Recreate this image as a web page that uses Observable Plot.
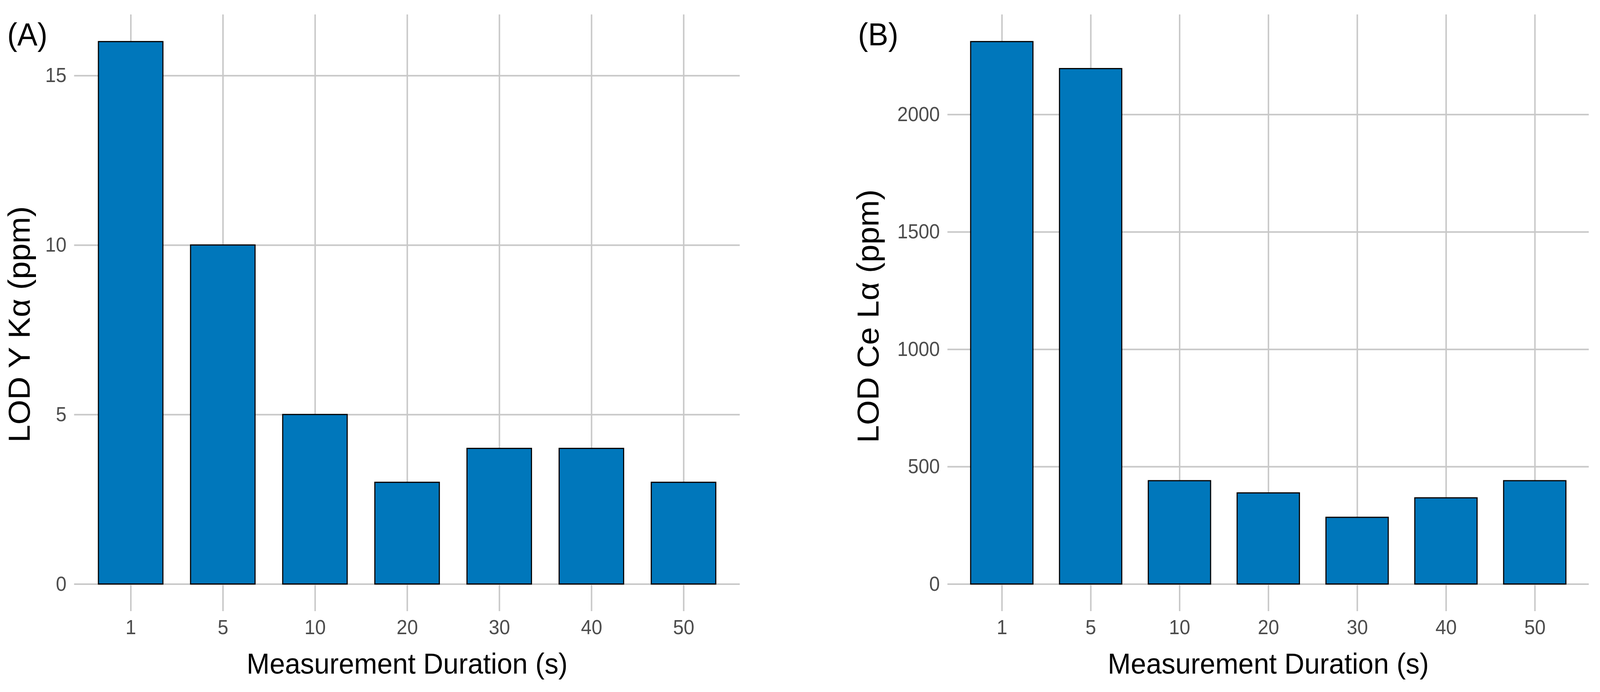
<!DOCTYPE html>
<html><head><meta charset="utf-8">
<script src="https://cdn.jsdelivr.net/npm/d3@7"></script>
<script src="https://cdn.jsdelivr.net/npm/@observablehq/plot@0.6"></script>
<style>html,body{margin:0;background:#fff;overflow:hidden}#wrap{position:relative;background:#fff}#wrap svg{position:absolute;top:0;max-width:none}</style>
</head><body><div id="wrap"></div>
<script>
const durations = ["1", "5", "10", "20", "30", "40", "50"];
const lodYKa = [16, 10, 5, 3, 4, 4, 3];
const lodCeLa = [2310, 2195, 440, 388, 284, 367, 440];
const ticksA = [0, 5, 10, 15];
const ticksB = [0, 500, 1000, 1500, 2000];
const xTitle = "Measurement Duration (s)";
const yTitleA = "LOD Y Kα (ppm)";
const yTitleB = "LOD Ce Lα (ppm)";

const GRID = "#c8c8c8";
const BAR = "#0077bb";
const FONT = "'Liberation Sans', Arial, Helvetica, sans-serif";
const W = 4341, H = 1771;

function panel({values, ticks, yLabel, tag, width, marginLeft, marginRight, titleDx, titleDy, tagDx}) {
  const data = durations.map((d, i) => ({d, v: values[i]}));
  const max = d3.max(values);
  const pad = max * 0.05;
  return Plot.plot({
    width, height: H,
    marginLeft, marginRight, marginTop: 37, marginBottom: 207,
    style: {fontFamily: FONT, background: "#fff", color: "#4d4d4d", overflow: "visible"},
    x: {type: "band", domain: durations, paddingInner: 0.3, paddingOuter: 0.25},
    y: {domain: [-pad, max + pad]},
    marks: [
      Plot.gridX({stroke: GRID, strokeOpacity: 1, strokeWidth: 4}),
      Plot.gridY({ticks, stroke: GRID, strokeOpacity: 1, strokeWidth: 4}),
      Plot.barY(data, {x: "d", y: "v", fill: BAR, stroke: "#000", strokeWidth: 3}),
      Plot.axisX({tickSize: 0, tickPadding: 22, fontSize: 52, label: null, color: "#4d4d4d"}),
      Plot.axisY({ticks, tickFormat: d3.format("d"), tickSize: 0, tickPadding: 21, fontSize: 52, label: null, color: "#4d4d4d"}),
      Plot.text([xTitle], {text: d => d, frameAnchor: "bottom", dy: 106, lineAnchor: "top", fontSize: 75, fill: "#000"}),
      Plot.text([yLabel], {text: d => d, frameAnchor: "left", dx: titleDx, dy: titleDy, rotate: -90, lineAnchor: "middle", textAnchor: "middle", fontSize: 82, fill: "#000"}),
      Plot.text([tag], {text: d => d, frameAnchor: "top-left", dx: tagDx, dy: 20, lineAnchor: "top", textAnchor: "start", fontSize: 82, fill: "#000"})
    ]
  });
}

// the browser viewport may be narrower than the target width: fit horizontally, keep full height
const sx = Math.min(1, window.innerWidth / W);
const wrap = document.getElementById("wrap");
wrap.style.width = (W * sx) + "px";
wrap.style.height = H + "px";
const a = panel({values: lodYKa, ticks: ticksA, yLabel: yTitleA, tag: "(A)", width: 2170, marginLeft: 201, marginRight: 163, titleDx: -147, titleDy: 29, tagDx: -182});
const b = panel({values: lodCeLa, ticks: ticksB, yLabel: yTitleB, tag: "(B)", width: 2171, marginLeft: 400, marginRight: 31, titleDx: -214, titleDy: 8, tagDx: -243});
for (const [svg, left, w] of [[a, 0, 2170], [b, 2170, 2171]]) {
  svg.setAttribute("preserveAspectRatio", "none");
  svg.style.left = (left * sx) + "px";
  svg.style.width = (w * sx) + "px";
  svg.style.height = H + "px";
}
wrap.append(a, b);
</script>
</body></html>
